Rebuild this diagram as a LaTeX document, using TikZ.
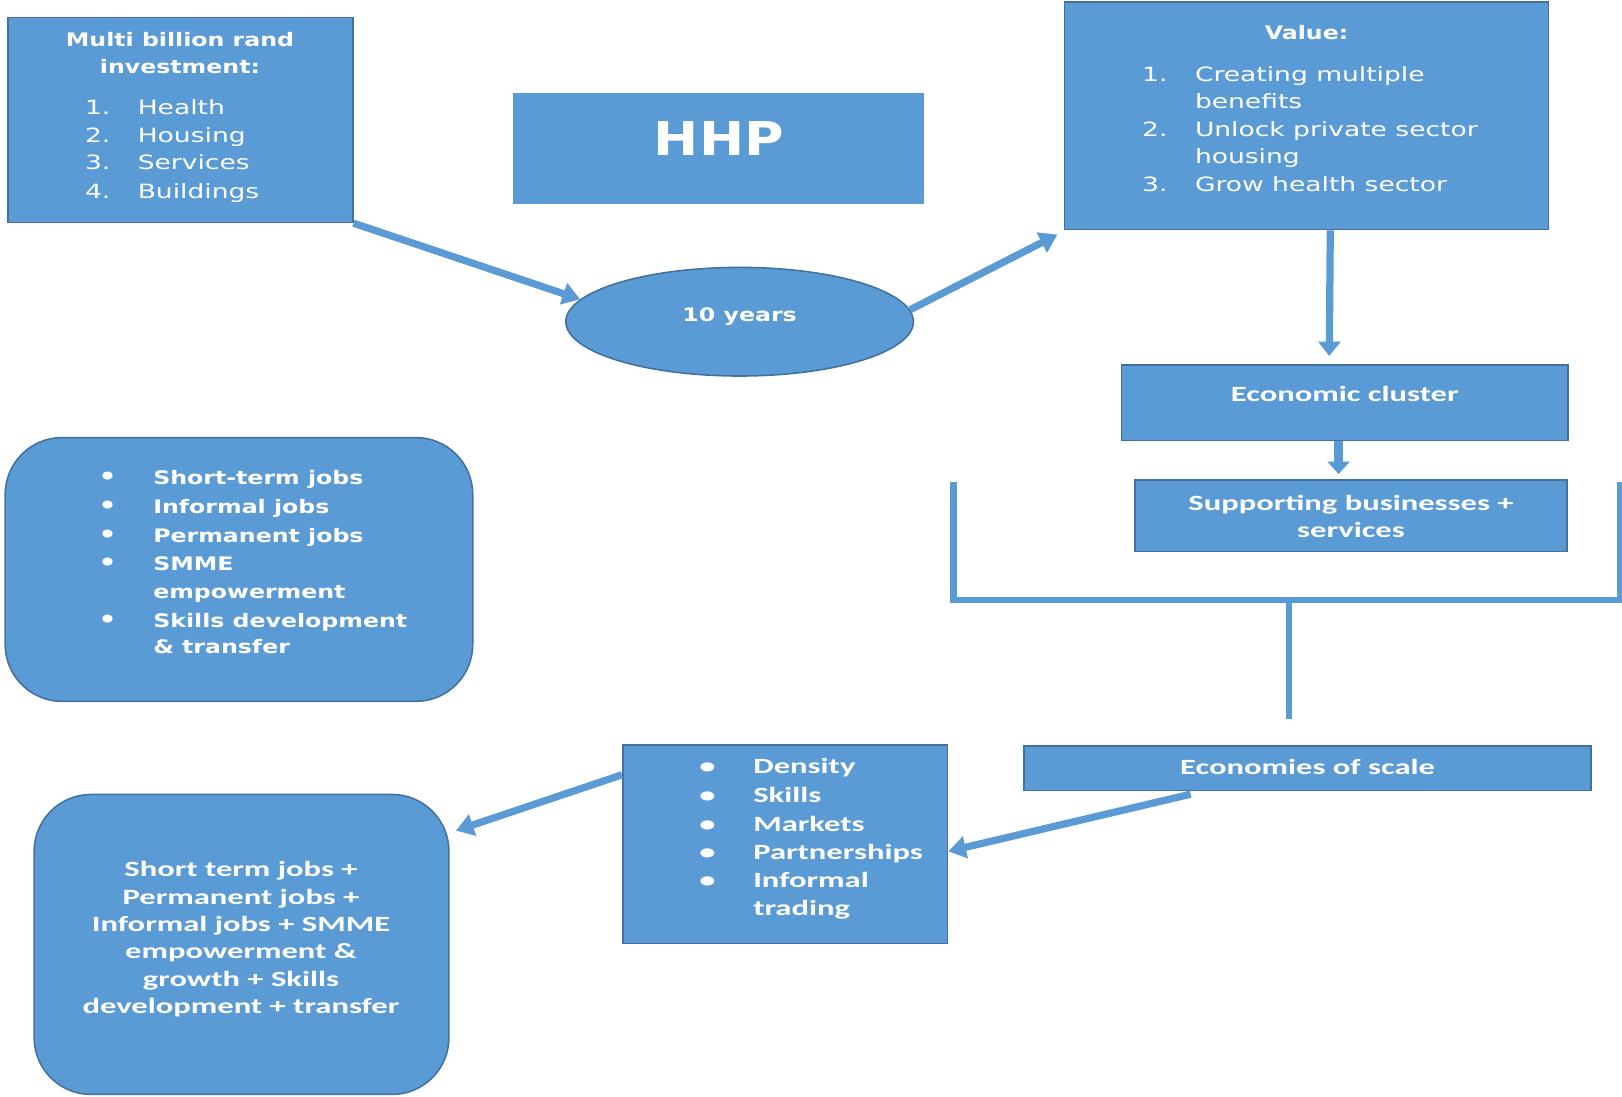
\documentclass[tikz,border=0pt]{standalone}
\usepackage{fontspec}
\usetikzlibrary{arrows.meta,shapes.geometric}
\newfontfamily\vf[FakeStretch=1.27]{DejaVu Sans}
\newfontfamily\vfr[FakeStretch=1.35]{DejaVu Sans}
\newfontfamily\vfh[FakeStretch=1.16]{DejaVu Sans}
\newfontfamily\cf[FakeStretch=1.5]{Carlito}
\definecolor{fillb}{HTML}{5B9BD5}
\definecolor{edgeb}{HTML}{41719C}
\tikzset{
 box/.style={draw=edgeb, line width=1.5pt, fill=fillb, inner sep=0pt},
 rbox/.style={box, rounded corners=55pt},
 conn/.style={draw=fillb, line width=7pt, -{Triangle[length=17pt,width=21pt]}},
 bar/.style={draw=fillb, line width=6.5pt, line join=miter},
 vt/.style={text=white, font=\vfr\fontsize{19}{22}\selectfont, inner sep=0pt},
 vtb/.style={text=white, font=\vf\bfseries\fontsize{18}{21}\selectfont, inner sep=0pt},
 ct/.style={text=white, font=\cf\bfseries\fontsize{21}{26.5}\selectfont, inner sep=0pt},
 bul/.style={text=white, font=\vf\bfseries\fontsize{22}{22}\selectfont, inner sep=0pt},
}
\begin{document}
\begin{tikzpicture}[x=1pt,y=-1pt]
\useasboundingbox (0,0) rectangle (1568,1060);
% boxes
\node[box, minimum width=333pt, minimum height=198pt] (multi) at (174.5,116) {};
\node[box, draw=none, minimum width=397pt, minimum height=107pt] (hhp) at (694.5,143.5) {};
\node[box, minimum width=468pt, minimum height=220pt] (val) at (1263,112) {};
\node[box, ellipse, minimum width=336pt, minimum height=105pt] (ell) at (715,311) {};
\node[box, minimum width=432pt, minimum height=73pt] (econ) at (1300,389.5) {};
\node[box, minimum width=418pt, minimum height=69pt] (supp) at (1306,498.5) {};
\node[rbox, minimum width=452pt, minimum height=255pt] (jobs) at (231,550.5) {};
\node[box, minimum width=548pt, minimum height=43pt] (scale) at (1264,742.5) {};
\node[box, minimum width=314pt, minimum height=192pt] (dens) at (759,816) {};
\node[rbox, minimum width=401pt, minimum height=290pt] (result) at (233.5,913) {};
% texts: multi
\node[vtb, anchor=mid] (m0) at (174,43) {Multi billion rand};
\node[vtb, anchor=mid] (m1) at (174,69) {investment:};
\node[vt, anchor=mid west] (mn1) at (82,109) {1.};
\node[vt, anchor=mid west] (mt1) at (133,109) {Health};
\node[vt, anchor=mid west] (mn2) at (82,136) {2.};
\node[vt, anchor=mid west] (mt2) at (133,136) {Housing};
\node[vt, anchor=mid west] (mn3) at (82,162) {3.};
\node[vt, anchor=mid west] (mt3) at (133,162) {Services};
\node[vt, anchor=mid west] (mn4) at (82,190) {4.};
\node[vt, anchor=mid west] (mt4) at (133,190) {Buildings};
% HHP
\node[text=white, font=\vfh\bfseries\fontsize{45}{50}\selectfont, inner sep=0pt, anchor=mid] (hhpt) at (695,148) {HHP};
% value
\node[vtb, anchor=mid] (v0) at (1263,36) {Value:};
\node[vt, anchor=mid west] (vn1) at (1104,77) {1.};
\node[vt, anchor=mid west] (vt1) at (1155,77) {Creating multiple};
\node[vt, anchor=mid west] (vt1b) at (1155,103) {benefits};
\node[vt, anchor=mid west] (vn2) at (1104,130) {2.};
\node[vt, anchor=mid west] (vt2) at (1155,130) {Unlock private sector};
\node[vt, anchor=mid west] (vt2b) at (1155,156) {housing};
\node[vt, anchor=mid west] (vn3) at (1104,183) {3.};
\node[vt, anchor=mid west] (vt3) at (1155,183) {Grow health sector};
% ellipse
\node[vtb, anchor=mid] (ellt) at (715,309) {10 years};
% econ, supp, scale
\node[ct, anchor=mid] (econt) at (1300,386) {Economic cluster};
\node[ct, align=center] (suppt) at (1306,499) {Supporting businesses +\\services};
\node[ct, anchor=mid] (scalet) at (1264,747) {Economies of scale};
% jobs list
\foreach \y/\t [count=\i] in {466/Short-term jobs,494/Informal jobs,522/Permanent jobs,549/SMME,576/empowerment,604/Skills development,630/\& transfer}{
  \node[vtb, anchor=mid west] (jt\i) at (148,\y) {\t};
}
\foreach \y [count=\i] in {466,494,522,549,604}{
  \node[bul, anchor=mid] (jb\i) at (104,\y) {•};
}
% density list
\foreach \y/\t [count=\i] in {746/Density,774/Skills,802/Markets,829/Partnerships,856/Informal,883/trading}{
  \node[ct, anchor=mid west] (dt\i) at (728,\y) {\t};
}
\foreach \y [count=\i] in {746,774,802,829,856}{
  \node[ct, anchor=mid] (db\i) at (684,\y) {•};
}
% result
\node[ct, align=center] (rt) at (233,908) {Short term jobs +\\Permanent jobs +\\Informal jobs + SMME\\empowerment \&\\growth + Skills\\development + transfer};
% connectors
\draw[conn] (multi.south east) -- (ell.172);
\draw[conn] (ell.4) -- ([shift={(-6,4)}]val.south west);
\draw[conn, -{Triangle[length=14pt,width=21pt]}] ([xshift=23pt]val.south) -- ([xshift=-15pt,yshift=8pt]econ.north);
\draw[conn, line width=8pt, -{Triangle[length=12pt,width=21pt]}] ([xshift=-6pt]econ.south) -- ([xshift=-12pt,yshift=5pt]supp.north);
\coordinate (bl) at (922,466);
\coordinate (bbl) at (922,580);
\coordinate (bbr) at (1566,580);
\coordinate (br) at (1566,466);
\coordinate (bm) at (1246,580);
\coordinate (bs) at (1246,695);
\draw[bar] (bl) -- (bbl) -- (bbr) -- (br);
\draw[bar] (bm) -- (bs);
\draw[conn] ([xshift=-113pt,yshift=-3pt]scale.south) -- ([yshift=-7pt]dens.east);
\draw[conn] ([yshift=67pt]dens.west) -- ([shift={(6,-110)}]result.east);
\end{tikzpicture}
\end{document}
